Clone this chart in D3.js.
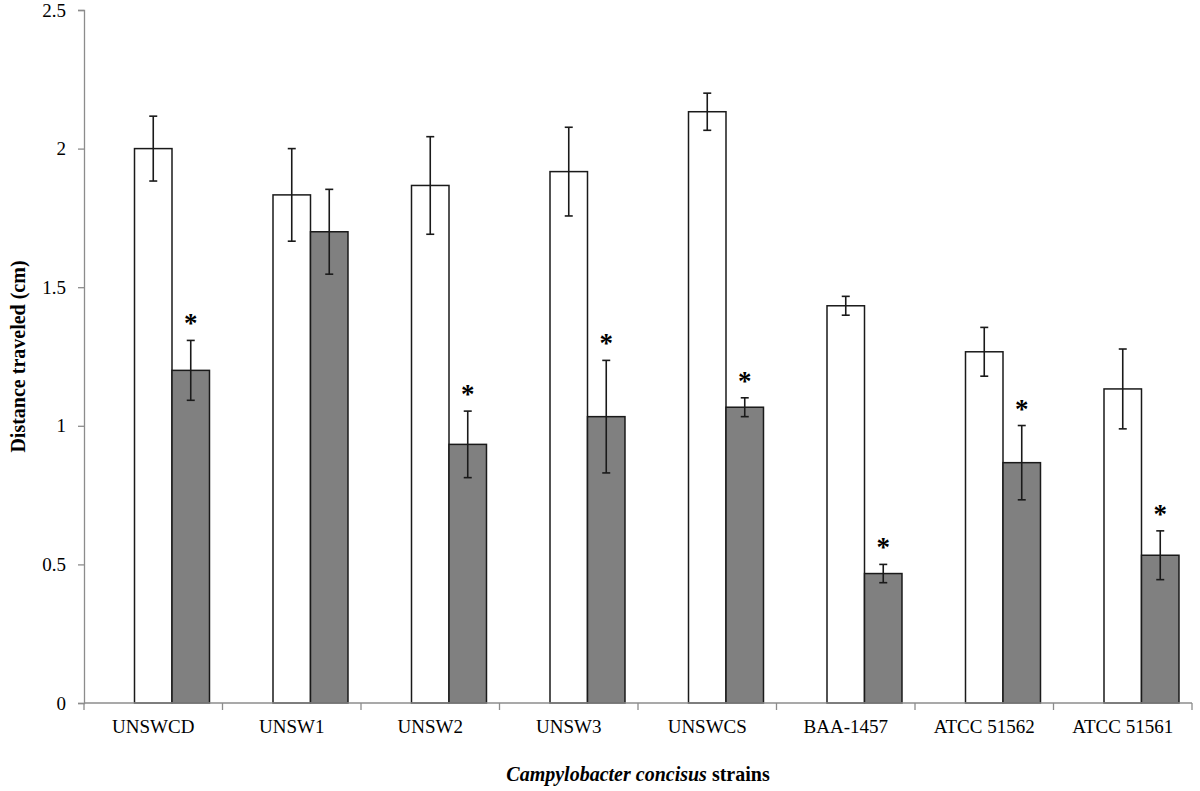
<!DOCTYPE html>
<html>
<head>
<meta charset="utf-8">
<script src="https://cdn.jsdelivr.net/npm/d3@7"></script>
<style>
  html, body { margin: 0; padding: 0; background: #fff; }
  svg { display: block; }
  text { font-family: "Liberation Serif", "Times New Roman", serif; fill: #000; }
</style>
</head>
<body>
<svg id="chart" width="1200" height="791"></svg>
<script>
// ---- data ----
const categories = ["UNSWCD", "UNSW1", "UNSW2", "UNSW3", "UNSWCS", "BAA-1457", "ATCC 51562", "ATCC 51561"];
const controlMeans = [2.0, 1.833, 1.867, 1.917, 2.133, 1.433, 1.267, 1.133];
const controlErrors = [0.117, 0.167, 0.176, 0.16, 0.067, 0.034, 0.088, 0.144];
const treatedMeans = [1.2, 1.7, 0.933, 1.033, 1.067, 0.467, 0.867, 0.533];
const treatedErrors = [0.108, 0.153, 0.12, 0.203, 0.034, 0.033, 0.134, 0.088];
const significant = [true, false, true, true, true, true, true, true];
const yTicks = [0, 0.5, 1, 1.5, 2, 2.5];
const seriesKeys = ["empty", "control", "treated"];

(function () {
// ---- layout ----
const svg = d3.select("#chart");
const mLeft = 84, mRight = 1192, mTop = 10, mBottom = 703;
const axisColor = "#8c8c8c";

const x = d3.scaleBand().domain(categories).range([mLeft, mRight]).paddingInner(0).paddingOuter(0);
const xs = d3.scaleBand().domain(seriesKeys).range([0, x.bandwidth()]).paddingInner(0).paddingOuter(0.347);
const y = d3.scaleLinear().domain([0, 2.5]).range([mBottom, mTop]);

const rows = categories.map((c, i) => ({
  cat: c,
  bars: [
    { key: "control", v: controlMeans[i], e: controlErrors[i], fill: "#ffffff" },
    { key: "treated", v: treatedMeans[i], e: treatedErrors[i], fill: "#808080", sig: significant[i] }
  ]
}));

// ---- bars ----
const g = svg.append("g");
const groups = g.selectAll("g.cat").data(rows).join("g")
  .attr("class", "cat")
  .attr("transform", d => `translate(${x(d.cat)},0)`);

groups.selectAll("rect").data(d => d.bars).join("rect")
  .attr("x", b => xs(b.key))
  .attr("y", b => y(b.v))
  .attr("width", xs.bandwidth())
  .attr("height", b => y(0) - y(b.v))
  .attr("fill", b => b.fill)
  .attr("stroke", "#1a1a1a")
  .attr("stroke-width", 1.5);

// ---- error bars ----
const eb = groups.selectAll("g.err").data(d => d.bars).join("g").attr("class", "err")
  .attr("stroke", "#1a1a1a").attr("stroke-width", 1.6);
const cx = b => xs(b.key) + xs.bandwidth() / 2;
eb.append("line")
  .attr("x1", cx).attr("x2", cx)
  .attr("y1", b => y(b.v + b.e))
  .attr("y2", b => y(b.v - b.e));
eb.append("line")
  .attr("x1", b => cx(b) - 4).attr("x2", b => cx(b) + 4)
  .attr("y1", b => y(b.v + b.e)).attr("y2", b => y(b.v + b.e));
eb.append("line")
  .attr("x1", b => cx(b) - 4).attr("x2", b => cx(b) + 4)
  .attr("y1", b => y(b.v - b.e)).attr("y2", b => y(b.v - b.e));

// ---- significance asterisks ----
groups.selectAll("text.sig").data(d => d.bars.filter(b => b.sig)).join("text")
  .attr("class", "sig")
  .attr("x", cx)
  .attr("y", b => y(b.v + b.e) - 20 + 12)
  .attr("text-anchor", "middle")
  .attr("font-size", 27)
  .attr("font-weight", "bold")
  .text("*");

// ---- axes ----
const yAxis = d3.axisLeft(y).tickValues(yTicks).tickSize(6).tickPadding(12)
  .tickFormat(d => d3.format("")(d));
const yG = svg.append("g").attr("transform", `translate(${mLeft},0)`).call(yAxis);
yG.select(".domain").attr("stroke", axisColor).attr("stroke-width", 1.3);
yG.selectAll(".tick line").attr("stroke", axisColor).attr("stroke-width", 1.3);
yG.selectAll(".tick text").attr("font-family", "Liberation Serif").attr("font-size", 19).attr("fill", "#000");

const xAxisG = svg.append("g").attr("transform", `translate(0,${mBottom})`);
xAxisG.append("line").attr("x1", mLeft).attr("x2", mRight).attr("y1", 0).attr("y2", 0)
  .attr("stroke", axisColor).attr("stroke-width", 1.3);
const boundaries = categories.map(c => x(c)).concat([x(categories[categories.length - 1]) + x.bandwidth()]);
xAxisG.selectAll("line.tk").data(boundaries).join("line").attr("class", "tk")
  .attr("x1", d => d).attr("x2", d => d).attr("y1", 0).attr("y2", 7)
  .attr("stroke", axisColor).attr("stroke-width", 1.3);
xAxisG.selectAll("text.cl").data(categories).join("text").attr("class", "cl")
  .attr("x", c => x(c) + x.bandwidth() / 2)
  .attr("y", 30)
  .attr("text-anchor", "middle")
  .attr("font-size", 19)
  .text(c => c);

// ---- axis titles ----
svg.append("text")
  .attr("transform", `translate(25,${(mTop + mBottom) / 2}) rotate(-90)`)
  .attr("text-anchor", "middle")
  .attr("font-size", 20)
  .attr("font-weight", "bold")
  .text("Distance traveled (cm)");

const xt = svg.append("text")
  .attr("x", (mLeft + mRight) / 2)
  .attr("y", 781)
  .attr("text-anchor", "middle")
  .attr("font-size", 20)
  .attr("font-weight", "bold");
xt.append("tspan").attr("font-style", "italic").text("Campylobacter concisus");
xt.append("tspan").text(" strains");
})();
</script>
</body>
</html>
